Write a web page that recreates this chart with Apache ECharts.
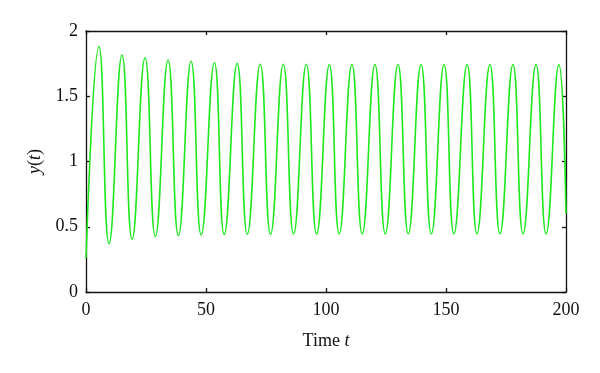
<!DOCTYPE html>
<html>
<head>
<meta charset="utf-8">
<script src="https://cdn.jsdelivr.net/npm/echarts@6/dist/echarts.min.js"></script>
<style>
html, body { margin: 0; padding: 0; background: #fff; }
#main { width: 600px; height: 373px; }
</style>
</head>
<body>
<div id="main"></div>
<script>
// turning points of y(t) (start, peak, trough, ..., end)
var timeT = [0, 5.4, 9.6, 15.0, 19.2, 24.6, 28.9, 34.2, 38.5, 43.8, 48.0, 53.5, 57.6, 63.0, 67.2,
	72.6, 76.9, 82.2, 86.5, 91.8, 96.1, 101.4, 105.5, 110.8, 115.1, 120.4, 124.7, 130.0, 134.3,
	139.6, 143.9, 149.2, 153.3, 158.8, 162.9, 168.3, 172.5, 177.9, 182.1, 187.5, 191.7, 197.0, 200];
var yValues = [0.26, 1.88, 0.37, 1.815, 0.405, 1.795, 0.425, 1.778, 0.432, 1.768, 0.437, 1.757, 0.44, 1.752, 0.442,
	1.745, 0.442, 1.745, 0.444, 1.745, 0.444, 1.742, 0.445, 1.742, 0.445, 1.742, 0.445, 1.742, 0.446,
	1.742, 0.446, 1.742, 0.446, 1.742, 0.446, 1.742, 0.446, 1.742, 0.446, 1.742, 0.446, 1.742, 0.6];
var xTicks = [0, 50, 100, 150, 200];
var yTicks = [0, 0.5, 1, 1.5, 2];

var font = 'Liberation Serif';
var lineCol = '#111';

var pts = [];
for (var i = 0; i < timeT.length; i++) {
	pts.push([timeT[i], yValues[i]]);
}

function frame(pos, labels) {
	return {
		type: 'value',
		position: pos,
		min: pos == 'left' || pos == 'right' ? yTicks[0] : xTicks[0],
		max: pos == 'left' || pos == 'right' ? yTicks[yTicks.length - 1] : xTicks[xTicks.length - 1],
		interval: pos == 'left' || pos == 'right' ? 0.5 : 50,
		splitLine: { show: false },
		axisLine: { show: true, onZero: false, lineStyle: { color: lineCol, width: 1.3 } },
		axisTick: { show: true, inside: true, length: 4, lineStyle: { color: lineCol, width: 1.3 } },
		axisLabel: {
			show: labels,
			color: '#111',
			fontFamily: font,
			fontSize: 18,
			margin: pos == 'bottom' ? 9 : 8,
			showMinLabel: true,
			showMaxLabel: true
		}
	};
}

var myChart = echarts.init(document.getElementById('main'));
var xBottom = frame('bottom', true);
xBottom.name = '{a|Time }{b|t}';
xBottom.nameLocation = 'middle';
xBottom.nameGap = 40;
xBottom.nameTextStyle = {
	rich: {
		a: { fontFamily: font, fontSize: 18, color: '#111' },
		b: { fontFamily: font, fontSize: 18, fontStyle: 'italic', color: '#111' }
	}
};
var yLeft = frame('left', true);
yLeft.name = '{i|y}{a|(}{i|t}{a|)}';
yLeft.nameLocation = 'middle';
yLeft.nameRotate = 90;
yLeft.nameGap = 42;
yLeft.nameTextStyle = {
	rich: {
		a: { fontFamily: font, fontSize: 18, color: '#111' },
		i: { fontFamily: font, fontSize: 18, fontStyle: 'italic', color: '#111' }
	}
};

option = {
	backgroundColor: '#fff',
	animation: false,
	grid: { left: 86, right: 34, top: 31, bottom: 81 },
	xAxis: [xBottom, frame('top', false)],
	yAxis: [yLeft, frame('right', false)],
	series: [{
		type: 'line',
		xAxisIndex: 0,
		yAxisIndex: 0,
		data: pts,
		smooth: 0.5,
		showSymbol: false,
		lineStyle: { color: '#1ee81e', width: 1.6 }
	}]
};
myChart.setOption(option);
</script>
</body>
</html>
